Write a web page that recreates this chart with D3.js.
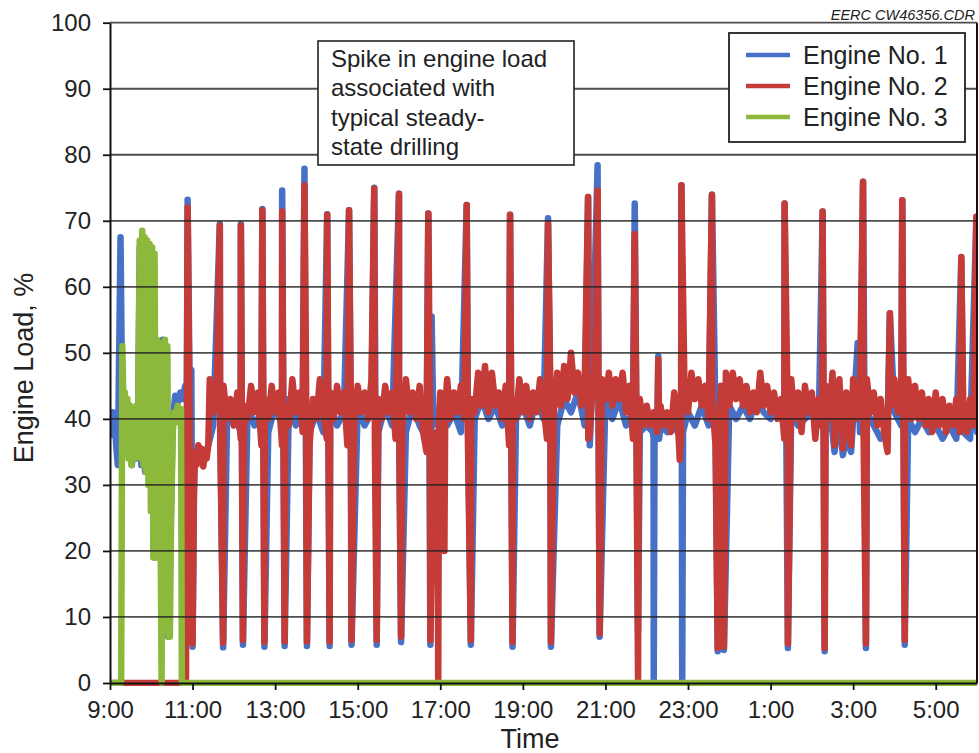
<!DOCTYPE html>
<html>
<head>
<meta charset="utf-8">
<script src="https://cdn.jsdelivr.net/npm/d3@7"></script>
<style>
body{margin:0;background:#fff;}
text{font-family:"Liberation Sans",Arial,sans-serif;fill:#222;}
</style>
</head>
<body>
<svg id="chart" width="979" height="753"></svg>
<script>
// axis ticks
var yTicks = [0,10,20,30,40,50,60,70,80,90,100];
var xTicks = [9,11,13,15,17,19,21,23,25,27,29];
var xTickLabels = ["9:00","11:00","13:00","15:00","17:00","19:00","21:00","23:00","1:00","3:00","5:00"];
var seriesNames = ["Engine No. 1","Engine No. 2","Engine No. 3"];
var noteLines = ["Spike in engine load","associated with","typical steady-","state drilling"];

// times are hours from midnight of day 1 (25 = 1:00 next day)
// Engine 1 - start-up period, spikes and drops [hour, load]
var e1Events = [[9.00,40],[9.03,38],[9.06,41],[9.09,37.5],[9.12,40],[9.15,36],[9.19,33],[9.255,67.5],[9.29,45],
  [9.33,40],[9.38,43],[9.43,36],[9.48,42],[9.53,33],[9.58,40],[9.63,34],[9.68,40],
  [9.72,66],[9.76,33],[9.80,66],[9.85,32],[9.90,66],[9.96,52],[10.00,33],[10.04,52],[10.08,19],[10.12,52],
  [10.16,19.5],[10.20,51],[10.24,20],[10.28,52],[10.32,8],[10.36,50],[10.41,7],[10.46,20],[10.52,40],
  [10.58,43.5],[10.64,42.5],[10.70,44],[10.76,43],[10.82,45],[10.86,44],[10.88,73.2],[10.93,44],[10.97,47.4],
  [11.00,5.5],[11.04,33],[11.10,34],[11.18,33.5],[11.26,34],[11.34,35],[11.42,37],
  [11.66,69.5],[11.74,5.4],[12.17,69.5],[12.22,5.8],[12.69,71.8],[12.74,5.5],[13.17,74.6],[13.23,5.6],
  [13.71,77.9],[13.77,5.6],[14.26,71],[14.32,5.6],[14.79,71.6],[14.85,5.8],[15.40,75],[15.46,5.8],
  [16.00,74.1],[16.05,6.2],[16.71,71.1],[16.76,5.8],[16.79,55.5],[17.64,72.4],[17.74,5.8],
  [18.69,70.9],[18.75,5.5],[19.61,70.4],[19.68,5.5],[20.58,73.6],[20.62,36],[20.81,78.4],[20.86,7.0],
  [21.71,72.6],[21.79,8],[22.15,38],[22.17,0],[22.19,38],[22.26,38],[22.28,49.5],[22.30,37],
  [22.84,75.4],[22.86,0],[22.88,38],[23.58,74],[23.72,4.8],[23.80,44],[23.87,5],
  [25.34,72.6],[25.42,5.3],[26.26,71.4],[26.31,4.8],[26.55,35],[26.75,34.5],[26.95,35],
  [27.11,51.5],[27.24,75.9],[27.31,5.3],[27.89,56],[28.19,73.1],[28.25,5.8],[29.62,64.5],[29.985,70.6]];
// Engine 1 - steady drilling, one reading every 10 min from 11:30
var e1Start = 11.5, e1Step = 10 / 60;
var e1Steady = [39,41,39,
  41,38,42,39,41,38, 42,39,43,39,42,38, 41,38,42,39,41,38, 42,39,41,38,42,39,
  41,38,42,39,37,39, 42,39,41,38,42,40, 43,40,42,39,42,40, 42,39,43,40,41,39,
  43,41,44,39,43,41, 43,40,43,39,41,38, 39,37,39,38,39,37, 41,39,42,39,40,41,
  42,40,42,40,43,41, 40,42,39,41,39,40, 41,39,42,38,41,37, 40,38,41,39,37,39,
  41,39,40,38,40,38, 39,37,39,37,38,37, 38];

// Engine 2 - off until 10:50, then spikes and drops [hour, load]
var e2Events = [[9.00,0],[10.84,0],[10.88,72],[10.92,44],[10.95,22],[11.00,6],[11.03,28],[11.06,35],
  [11.10,33],[11.14,36],[11.18,34],[11.22,35.5],[11.26,32.8],[11.30,35],[11.34,34],[11.38,36],
  [11.66,69.3],[11.74,6.1],[12.17,69.3],[12.22,6.5],[12.69,71.6],[12.74,6.2],[13.17,71.4],[13.23,6.3],
  [13.71,75.4],[13.77,6.3],[14.26,70.9],[14.32,6.3],[14.79,71.6],[14.85,6.5],[15.40,74.9],[15.46,6.5],
  [16.00,74.1],[16.05,7.0],[16.71,71.1],[16.76,6.5],[16.93,38],[16.95,0],[16.97,40],
  [17.08,40],[17.10,20],[17.12,42],[17.64,72.4],[17.74,6.5],[18.69,70.9],[18.75,6.2],
  [19.61,69.5],[19.68,6.2],[20.58,73.6],[20.62,37.8],[20.81,74.6],[20.86,7.5],
  [21.71,68],[21.79,0],[21.81,40],[22.26,40],[22.28,49],[22.30,39],[22.80,33.8],[22.84,75.4],
  [23.58,73.9],[23.72,5.3],[23.80,45],[23.87,5.5],[25.34,72.6],[25.42,6],[26.26,71.4],[26.31,5.3],
  [26.55,36],[26.75,35.5],[26.95,36],[27.24,75.9],[27.31,6],[27.89,56],[28.19,73.1],[28.25,6.5],
  [29.62,64.5],[29.985,70.6]];
// Engine 2 - steady drilling, one reading every 5 min from 11:25
var e2Start = 11 + 25 / 60, e2Step = 5 / 60;
var e2Steady = [46,41,44,39,45,40,43,
  39,44,37,42,40,45,41,44,36,43,40,45,
  41,44,36,42,39,46,41,44,38,45,36,43,
  40,46,41,37,44,40,45,41,44,36,42,40,
  45,41,44,40,46,36,43,40,45,41,44,37,
  43,39,46,41,44,40,45,38,35,42,34,38,
  44,38,46,40,44,41,45,40,38,43,41,47,
  42,48,41,47,42,44,40,45,36,43,40,46,
  41,45,40,44,41,46,42,37,44,41,47,42,
  48,43,50,44,47,42,46,37,43,47,41,46,
  43,47,42,46,43,47,41,45,37,40,43,39,
  42,39,41,38,42,39,41,38,44,40,38,44,
  41,47,43,46,42,45,40,43,36,40,44,47,
  42,47,43,46,42,45,41,44,41,47,42,45,
  41,44,40,43,37,40,46,40,44,38,45,41,
  44,37,43,39,45,40,47,41,46,36,44,37,
  46,40,45,39,46,41,44,39,43,38,35,42,
  46,41,44,39,46,40,45,40,44,39,43,38,
  44,39,43,38,42,39,43,38,42,38,43,39,
  41];

// Engine 3 - only running in the morning [hour, load]
var e3Events = [[9.00,0],[9.27,0],[9.30,51],[9.33,40],[9.36,44],[9.39,36],[9.42,43],[9.45,34],[9.48,42],
  [9.52,33],[9.56,41],[9.60,34],[9.64,42],[9.68,38],
  [9.72,67],[9.75,34],[9.78,68.5],[9.81,33],[9.84,67.5],[9.87,32],[9.90,67],[9.93,30],[9.96,66.5],
  [9.99,26],[10.02,66],[10.05,19],[10.08,65],[10.11,19],[10.14,52],[10.17,20],[10.20,51.5],[10.23,19],
  [10.25,0],[10.27,51],[10.30,14],[10.33,52],[10.36,8],[10.39,51],[10.42,7],[10.45,7],[10.48,25],
  [10.52,38],[10.56,41],[10.60,39.5],[10.64,42],[10.68,40],[10.72,41.5],[10.74,0],[30,0]];

var colors = ["#4671c6","#c43b38","#8cb83b"];

function merge(events, start, step, steady){
  var pts = events.slice();
  steady.forEach(function(v, i){ pts.push([start + i * step, v]); });
  pts.sort(function(a, b){ return a[0] - b[0]; });
  return pts;
}
var engine1 = merge(e1Events, e1Start, e1Step, e1Steady);
var engine2 = merge(e2Events, e2Start, e2Step, e2Steady);
var engine3 = e3Events;

var svg = d3.select("#chart");
var plotL = 110, plotR = 977, plotT = 22.7, plotB = 683;
var x = d3.scaleLinear().domain([9, 30]).range([plotL, plotR]);
var y = d3.scaleLinear().domain([0, 100]).range([plotB, plotT]);

svg.append("defs").append("clipPath").attr("id", "plot")
  .append("rect").attr("x", plotL).attr("y", 0).attr("width", plotR - plotL).attr("height", plotB + 3);

var line = d3.line().x(function(d){ return x(d[0]); }).y(function(d){ return y(d[1]); });
var g = svg.append("g").attr("clip-path", "url(#plot)");
[engine1, engine2, engine3].forEach(function(data, i){
  g.append("path").datum(data).attr("d", line)
    .attr("fill", "none").attr("stroke", colors[i]).attr("stroke-width", 6.5)
    .attr("stroke-linejoin", "round").attr("stroke-linecap", "round");
});

// gridlines
svg.append("g").selectAll("line").data(yTicks.slice(1)).enter().append("line")
  .attr("x1", plotL).attr("x2", plotR).attr("y1", function(d){ return y(d); }).attr("y2", function(d){ return y(d); })
  .attr("stroke", "#222").attr("stroke-width", 1.8).attr("opacity", 0.8);

// axes
var yAxis = svg.append("g").attr("transform", "translate(" + plotL + ",0)")
  .call(d3.axisLeft(y).tickValues(yTicks).tickSize(7).tickSizeOuter(0).tickPadding(12));
var xAxis = svg.append("g").attr("transform", "translate(0," + plotB + ")")
  .call(d3.axisBottom(x).tickValues(xTicks).tickSize(7).tickSizeOuter(0).tickPadding(11)
    .tickFormat(function(d, i){ return xTickLabels[i]; }));
[yAxis, xAxis].forEach(function(a){
  a.select(".domain").attr("stroke", "#111").attr("stroke-width", 2);
  a.selectAll(".tick line").attr("stroke", "#111").attr("stroke-width", 1.8);
  a.selectAll("text").style("font-size", "24px").attr("fill", "#222");
});
svg.append("line").attr("x1", plotR).attr("x2", plotR).attr("y1", plotT).attr("y2", plotB)
  .attr("stroke", "#111").attr("stroke-width", 2);

// titles
svg.append("text").attr("x", 530).attr("y", 748).attr("text-anchor", "middle")
  .style("font-size", "27px").text("Time");
svg.append("text").attr("transform", "translate(33,368) rotate(-90)").attr("text-anchor", "middle")
  .style("font-size", "27px").text("Engine Load, %");
svg.append("text").attr("x", 975).attr("y", 20).attr("text-anchor", "end")
  .style("font-size", "14.5px").style("font-style", "italic").attr("fill", "#444").text("EERC CW46356.CDR");

// annotation box
svg.append("rect").attr("x", 318).attr("y", 41).attr("width", 256).attr("height", 124)
  .attr("fill", "#fff").attr("stroke", "#222").attr("stroke-width", 1.6);
svg.append("g").selectAll("text").data(noteLines).enter().append("text")
  .attr("x", 331).attr("y", function(d, i){ return 66.5 + i * 29.5; })
  .style("font-size", "24px").text(function(d){ return d; });

// legend
var lg = svg.append("g");
lg.append("rect").attr("x", 729).attr("y", 33).attr("width", 236).attr("height", 109)
  .attr("fill", "#fff").attr("stroke", "#222").attr("stroke-width", 1.8);
seriesNames.forEach(function(name, i){
  var cy = 55 + i * 31;
  lg.append("line").attr("x1", 746).attr("x2", 790).attr("y1", cy).attr("y2", cy)
    .attr("stroke", colors[i]).attr("stroke-width", 4.5);
  lg.append("text").attr("x", 803).attr("y", cy + 9).style("font-size", "25px").text(name);
});
</script>
</body>
</html>
